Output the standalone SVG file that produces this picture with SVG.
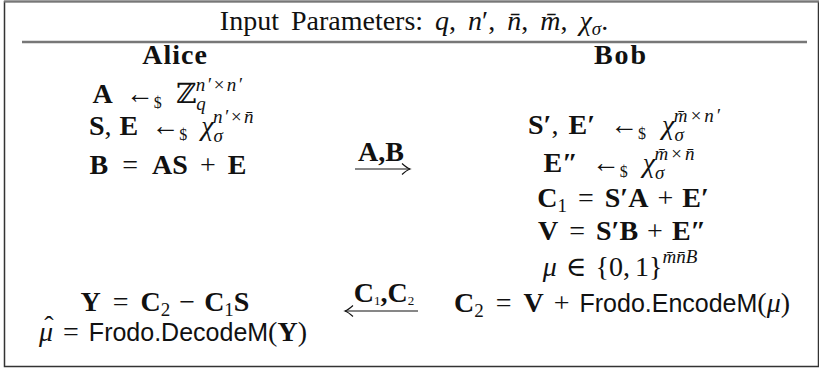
<svg xmlns="http://www.w3.org/2000/svg" width="819" height="368" viewBox="0 0 819 368">
<style>
text{font-family:"Liberation Serif","DejaVu Serif",serif;fill:#111;font-size:28px;text-anchor:middle}
.b{font-weight:bold}
.n{font-weight:normal}
.i{font-style:italic}
.s{font-size:19px}
.d{font-size:16px}
.sf{font-family:"Liberation Sans","DejaVu Sans",sans-serif;font-size:25px}
.ln{stroke:#111;stroke-width:1.1;fill:none}
</style>
<defs>
<marker id="hd" viewBox="-10 -6 12 12" markerWidth="12" markerHeight="12" refX="0" refY="0" orient="auto" markerUnits="userSpaceOnUse">
<path d="M-8,-5.5 Q-3,-1 0,0 Q-3,1 -8,5.5" fill="none" stroke="#111" stroke-width="1.1"/>
</marker>
</defs>
<rect x="4.5" y="1.5" width="814" height="365" fill="#fff" stroke="#333" stroke-width="1.5"/>
<line x1="4" y1="1.5" x2="819" y2="1.5" stroke="#777" stroke-width="2"/>
<line x1="22" y1="42" x2="807" y2="42" stroke="#777" stroke-width="2.5"/>
<text x="414" y="30" font-size="28" word-spacing="5">Input Parameters: <tspan class="i">q</tspan>, <tspan class="i">n</tspan>′, <tspan class="i">n̄</tspan>, <tspan class="i">m̄</tspan>, <tspan class="i">χ</tspan><tspan class="i s" dy="5">σ</tspan><tspan dy="-5">.</tspan></text>

<g id="alice">
<text x="175" y="64" class="b" letter-spacing="1">Alice</text>
<text x="168" y="103"><tspan class="b">A</tspan><tspan dx="13">←</tspan><tspan class="d" dy="5">$</tspan><tspan dx="14" dy="-5">ℤ</tspan><tspan class="i s" dy="7">q</tspan><tspan class="i s" dx="-10" dy="-19" letter-spacing="1.5">n′×n′</tspan></text>
<text x="172" y="135"><tspan class="b">S</tspan>,<tspan class="b" dx="8">E</tspan><tspan dx="13">←</tspan><tspan class="d" dy="5">$</tspan><tspan class="i" dx="14" dy="-5">χ</tspan><tspan class="i s" dy="7">σ</tspan><tspan class="i s" dx="-10" dy="-19" letter-spacing="1.5">n′×n̄</tspan></text>
<text x="168" y="174" class="b">B<tspan class="n" dx="14">=</tspan><tspan dx="14">AS</tspan><tspan class="n" dx="12">+</tspan><tspan dx="12">E</tspan></text>
<text x="165" y="311"><tspan class="b">Y</tspan><tspan dx="12">=</tspan><tspan class="b" dx="12">C</tspan><tspan class="s" dy="5">2</tspan><tspan dx="9" dy="-5">−</tspan><tspan class="b" dx="9">C</tspan><tspan class="s" dy="5">1</tspan><tspan class="b" dy="-5">S</tspan></text>
<text x="173" y="341"><tspan class="i">μ</tspan><tspan dx="10">=</tspan><tspan class="sf" dx="10">Frodo.DecodeM</tspan>(<tspan class="b">Y</tspan>)</text>
<text x="49" y="335" font-size="22">ˆ</text>
</g>

<g id="bob">
<text x="621" y="64" class="b" letter-spacing="2">Bob</text>
<text x="625" y="134"><tspan class="b">S′</tspan>,<tspan class="b" dx="10">E′</tspan><tspan dx="15">←</tspan><tspan class="d" dy="5">$</tspan><tspan class="i" dx="16" dy="-5">χ</tspan><tspan class="i s" dy="7">σ</tspan><tspan class="i s" dx="-10" dy="-19" letter-spacing="2">m̄×n′</tspan></text>
<text x="620" y="172"><tspan class="b">E″</tspan><tspan dx="14">←</tspan><tspan class="d" dy="5">$</tspan><tspan class="i" dx="15" dy="-5">χ</tspan><tspan class="i s" dy="7">σ</tspan><tspan class="i s" dx="-10" dy="-19" letter-spacing="2">m̄×n̄</tspan></text>
<text x="623" y="207"><tspan class="b">C</tspan><tspan class="s" dy="5">1</tspan><tspan dx="11" dy="-5">=</tspan><tspan class="b" dx="11">S′A</tspan><tspan dx="9">+</tspan><tspan class="b" dx="9">E′</tspan></text>
<text x="622" y="240"><tspan class="b">V</tspan><tspan dx="11">=</tspan><tspan class="b" dx="11">S′B</tspan><tspan dx="9">+</tspan><tspan class="b" dx="9">E″</tspan></text>
<text x="620" y="276"><tspan class="i">μ</tspan><tspan dx="9">∈</tspan><tspan dx="9">{0,</tspan><tspan dx="5">1}</tspan><tspan class="i s" dy="-13">m̄n̄B</tspan></text>
<text x="622" y="312"><tspan class="b">C</tspan><tspan class="s" dy="5">2</tspan><tspan dx="12" dy="-5">=</tspan><tspan class="b" dx="12">V</tspan><tspan dx="10">+</tspan><tspan class="sf" dx="10">Frodo.EncodeM</tspan>(<tspan class="i">μ</tspan>)</text>
</g>

<g id="connectors">
<line class="ln" x1="355" y1="169" x2="410" y2="169" marker-end="url(#hd)"/>
<text x="381" y="161" class="b" font-size="18">A,B</text>
<line class="ln" x1="418" y1="311" x2="345" y2="311" marker-end="url(#hd)"/>
<text x="384" y="302" class="b" font-size="18">C<tspan font-size="13" class="n" dy="3">1</tspan><tspan dy="-3">,C</tspan><tspan font-size="13" class="n" dy="3">2</tspan></text>
</g>
</svg>
